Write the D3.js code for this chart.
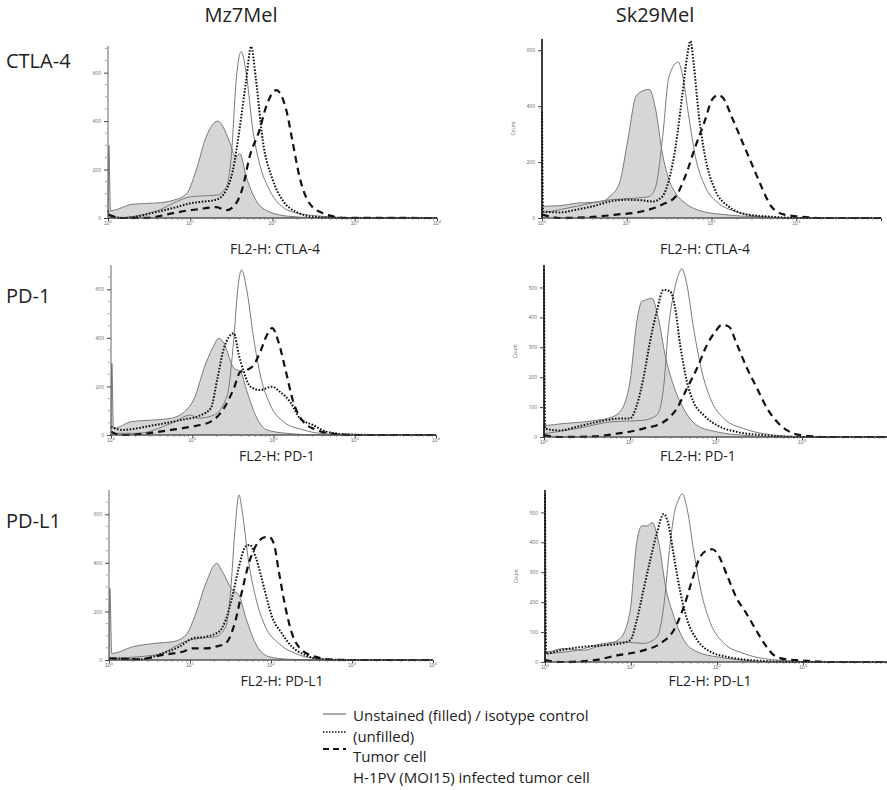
<!DOCTYPE html>
<html>
<head>
<meta charset="utf-8">
<script src="https://cdn.jsdelivr.net/npm/d3@7"></script>
<style>
  body { margin: 0; background: #fff; }
  svg { display: block; font-family: "Open Sans", sans-serif; }
</style>
</head>
<body>
<svg id="chart"></svg>
<script>
// column / row labels
var cellLines = ["Mz7Mel", "Sk29Mel"];
var markers = ["CTLA-4", "PD-1", "PD-L1"];
var xTicks = [1, 10, 100, 1000, 10000];
var xTickExp = ["0", "1", "2", "3", "4"];
var yTicksMz = [0, 200, 400, 600];
var yTicksSkTop = [0, 200, 400, 600];
var yTicksSk = [0, 100, 200, 300, 400, 500];
var legendLabels = ["Unstained (filled) / isotype control", "(unfilled)", "Tumor cell", "H-1PV (MOI15) infected tumor cell"];

// histograms: [FL2-H, count]
var mzCtlaFilled = [[1,20],[1.025,300],[1.07,30],[2,57],[3.9,62],[6.2,73],[9,100],[11.8,197],[15.6,335],[21.7,400],[25,377],[30,315],[36,252],[40,266],[48,170],[63,73],[92,25],[160,7],[300,2],[10000,0]];
var mzCtlaIso = [[1,5],[1.1,0],[3.6,25],[10,87],[12,90],[21,94],[27.4,128],[31.5,252],[36.2,570],[41.6,687],[47.9,597],[57.7,363],[69.5,225],[92,115],[133,45],[213,18],[408,7],[1000,0],[10000,0]];
var mzCtlaTumor = [[1,30],[1.05,10],[1.6,0],[3.9,25],[6.8,45],[9.8,60],[13,66],[20.7,76],[27.4,115],[33,197],[39.6,363],[47.9,570],[55,708],[63,570],[76,322],[101,156],[133,73],[194,25],[339,4],[1000,0],[10000,0]];
var mzCtlaInfected = [[1,14],[1.5,0],[3,1],[6.2,20],[9.8,32],[11.8,35],[20.7,45],[27.4,32],[36,60],[43.6,128],[52.6,252],[69.5,363],[83.7,460],[111,528],[147,446],[177,308],[213,170],[282,60],[408,20],[490,11],[710,1],[10000,0]];

var skCtlaFilled = [[1,40],[1.05,42],[1.64,44],[2.56,53],[4,56],[5.25,60],[6.3,77],[8.2,125],[10.3,279],[12.8,434],[14.7,451],[18.4,460],[22,386],[26.3,232],[31.5,137],[37.7,89],[49,53],[77,24],[144,12],[354,4],[1000,0],[10000,0]];
var skCtlaIso = [[1,18],[1.64,30],[2.56,42],[6.3,65],[12.8,71],[18.4,77],[22,113],[26.3,279],[31.5,505],[40.5,558],[45,517],[54,362],[64.5,220],[84,113],[121,53],[189,24],[354,6],[1000,0],[10000,0]];
var skCtlaTumor = [[1,380],[1.03,24],[1.64,20],[2.56,30],[4,42],[6.3,59],[9.8,65],[15.4,63],[20.1,59],[26.3,77],[31.5,137],[37.7,255],[45,434],[51.5,576],[56.4,633],[61.6,552],[70.5,374],[84,220],[110,101],[158,42],[272,12],[553,4],[1000,0],[10000,0]];
var skCtlaInfected = [[1,12],[1.64,0],[4,4],[7.5,12],[15.4,24],[26.3,48],[37.7,77],[49,149],[64.5,255],[84,350],[101,422],[121,440],[138,428],[173,362],[226,279],[296,196],[387,113],[506,42],[724,12],[1040,6],[2000,0],[10000,0]];

var mzPd1Filled = [[1,20],[1.025,295],[1.07,27],[1.79,55],[3.44,62],[5.5,69],[8,96],[10.6,151],[14,275],[17.7,357],[21.3,398],[24.5,378],[32.5,275],[39.2,261],[47.3,178],[62.6,69],[83,21],[145,7],[400,0],[10000,0]];
var mzPd1Iso = [[1,7],[2.15,7],[5.5,48],[9.6,82],[11.6,69],[18.5,82],[27,165],[32.5,398],[36.4,604],[40.4,680],[47.3,590],[57,398],[68.8,247],[91,124],[132,55],[232,21],[371,7],[1000,0],[10000,0]];
var mzPd1Tumor = [[1,34],[1.35,21],[3.44,41],[7.3,62],[12.8,82],[16.9,110],[20.4,233],[24.5,357],[32.5,419],[37.4,330],[43,261],[52,199],[68.8,185],[95.4,199],[120,178],[160,137],[211,69],[307,41],[447,14],[784,3],[2000,0],[10000,0]];
var mzPd1Infected = [[1,14],[1.3,0],[2.85,7],[5.5,21],[9.6,34],[16.9,55],[24.5,110],[32.5,192],[39.2,261],[47.3,268],[57,288],[68.8,343],[83,412],[96.3,440],[115,384],[139,275],[175,137],[232,55],[338,21],[491,7],[1000,0],[10000,0]];

var skPd1Filled = [[1,39],[1.06,39],[1.67,45],[2.85,50],[4.1,56],[5.8,64],[7.6,84],[10,185],[12,386],[13.7,453],[15.7,459],[17.9,464],[21.4,397],[25.6,274],[32,173],[42,95],[60,39],[103,17],[210,6],[600,0],[10000,0]];
var skPd1Iso = [[1,11],[2.4,28],[5.8,50],[14.3,56],[20.5,73],[24.5,162],[28,364],[32,476],[36.7,543],[40,563],[45.9,509],[54.8,364],[68.7,218],[86,129],[123,62],[210,28],[360,11],[807,2],[2000,0],[10000,0]];
var skPd1Tumor = [[1,560],[1.03,28],[1.52,22],[2.4,34],[4.1,50],[5.8,58],[7.6,62],[10,62],[12,106],[14.3,196],[17.1,319],[20.5,420],[24.5,492],[29.3,487],[33.5,431],[38.3,308],[45.9,185],[54.8,117],[71.8,73],[103,39],[176,17],[360,6],[1000,0],[10000,0]];
var skPd1Infected = [[1,6],[1.5,0],[3.7,2],[7,11],[14.3,28],[24.5,50],[35,95],[45.9,162],[60,229],[78.5,308],[98,352],[117,375],[141,369],[176,308],[230,229],[301,162],[394,95],[515,50],[674,22],[965,6],[2000,0],[10000,0]];

var mzPdl1Filled = [[1,20],[1.025,295],[1.08,27],[2,55],[3.8,69],[6.1,75],[8.9,103],[11.8,192],[15.7,316],[21.4,398],[25.1,364],[33.3,288],[40.2,268],[48.5,178],[64.3,69],[93.6,14],[165,3],[400,0],[10000,0]];
var mzPdl1Iso = [[1,7],[3.8,21],[9.8,82],[13,89],[20.8,96],[27.6,137],[31.8,288],[35.9,535],[40.2,680],[45,590],[53.3,398],[64.3,261],[85.3,137],[124,69],[199,27],[349,7],[1000,0],[10000,0]];
var mzPdl1Tumor = [[1,7],[2.4,3],[4.6,27],[7.4,55],[10.8,89],[15.7,96],[22.9,117],[27.6,165],[33.3,261],[40.2,384],[48.5,467],[54.8,474],[64.3,426],[74,357],[85.3,275],[103,178],[136,110],[181,55],[263,21],[421,3],[1000,0],[10000,0]];
var mzPdl1Infected = [[1,7],[2.4,3],[4.6,21],[8.1,34],[10.8,48],[15.7,48],[20.8,55],[27.6,69],[36.6,165],[44.2,288],[53.3,398],[64.3,467],[77.6,501],[93.6,508],[108,481],[124,371],[150,220],[181,110],[240,41],[349,14],[508,3],[1000,0],[10000,0]];

var skPdl1Filled = [[1,34],[1.05,34],[1.64,45],[2.8,39],[4,51],[5.7,62],[7.5,79],[9.8,174],[11.5,388],[13.4,455],[15.4,455],[17.6,466],[21,399],[25.2,253],[31.5,152],[41.2,73],[59,34],[101,17],[207,6],[600,0],[10000,0]];
var skPdl1Iso = [[1,28],[2.34,39],[4.8,62],[8.2,67],[14,62],[20.1,84],[24,185],[27.5,354],[31.5,489],[36,545],[39.4,562],[45,511],[54,365],[67.4,219],[84.3,129],[121,62],[207,28],[354,11],[792,3],[2000,0],[10000,0]];
var skPdl1Tumor = [[1,560],[1.03,28],[1.5,39],[2.8,51],[4.8,56],[7.5,62],[9.8,73],[11.7,141],[14,242],[16.8,343],[20.1,433],[24,495],[27.5,455],[31.5,354],[37.7,230],[45,141],[59,73],[84.3,34],[132,17],[247,6],[1000,0],[10000,0]];
var skPdl1Infected = [[1,6],[1.5,0],[3.7,6],[6.9,22],[14,39],[22,62],[31.5,107],[41.2,185],[51.5,275],[61.6,343],[73.7,371],[88.3,377],[105,354],[132,287],[173,208],[207,174],[270,118],[354,62],[463,22],[662,8],[867,6],[2000,0],[10000,0]];

var screen = { width: 887, height: 790 };

var svg = d3.select("#chart")
            .attr("width", screen.width)
            .attr("height", screen.height);

// panel boxes (pixel positions of the 10^0 / 10^4 ticks, baseline, top)
var panels = [
  { col: 0, row: 0, x0: 108, x1: 437, yb: 218, yt: 46,  ymax: 710, ticks: yTicksMz,    minor: true,
    curves: [mzCtlaFilled, mzCtlaIso, mzCtlaTumor, mzCtlaInfected], cx: 275 },
  { col: 1, row: 0, x0: 542, x1: 881, yb: 218, yt: 39,  ymax: 640, ticks: yTicksSkTop, minor: false,
    curves: [skCtlaFilled, skCtlaIso, skCtlaTumor, skCtlaInfected], cx: 705 },
  { col: 0, row: 1, x0: 111, x1: 436, yb: 435, yt: 265, ymax: 700, ticks: yTicksMz,    minor: true,
    curves: [mzPd1Filled, mzPd1Iso, mzPd1Tumor, mzPd1Infected], cx: 277 },
  { col: 1, row: 1, x0: 544, x1: 888, yb: 437, yt: 265, ymax: 575, ticks: yTicksSk,    minor: false,
    curves: [skPd1Filled, skPd1Iso, skPd1Tumor, skPd1Infected], cx: 698 },
  { col: 0, row: 2, x0: 109, x1: 433, yb: 660, yt: 490, ymax: 700, ticks: yTicksMz,    minor: true,
    curves: [mzPdl1Filled, mzPdl1Iso, mzPdl1Tumor, mzPdl1Infected], cx: 282 },
  { col: 1, row: 2, x0: 545, x1: 889, yb: 662, yt: 490, ymax: 575, ticks: yTicksSk,    minor: false,
    curves: [skPdl1Filled, skPdl1Iso, skPdl1Tumor, skPdl1Infected], cx: 710 }
];
var subtitleY = [254, 461, 686];
var rowLabelY = [68, 303, 528];

// titles
svg.selectAll(".colTitle")
   .data(cellLines)
   .enter()
   .append("text")
   .attr("x", function(d, i) { return [241, 655][i]; })
   .attr("y", 22)
   .attr("text-anchor", "middle")
   .attr("font-size", 20)
   .attr("fill", "#222")
   .text(function(d) { return d; });

svg.selectAll(".rowTitle")
   .data(markers)
   .enter()
   .append("text")
   .attr("x", 6)
   .attr("y", function(d, i) { return rowLabelY[i]; })
   .attr("font-size", 20)
   .attr("fill", "#222")
   .text(function(d) { return d; });

var minorX = [];
[1, 10, 100, 1000].forEach(function(dec) {
  for (var k = 2; k <= 9; k++) minorX.push(dec * k);
});

panels.forEach(function(p) {
  var xScale = d3.scaleLog().domain([1, 10000]).range([p.x0, p.x1]);
  var yScale = d3.scaleLinear().domain([0, p.ymax]).range([p.yb, p.yt]);
  var g = svg.append("g").classed("panel", true);

  var area = d3.area()
               .x(function(d) { return xScale(d[0]); })
               .y0(yScale(0))
               .y1(function(d) { return yScale(d[1]); })
               .curve(d3.curveMonotoneX);
  var line = d3.line()
               .x(function(d) { return xScale(d[0]); })
               .y(function(d) { return yScale(d[1]); })
               .curve(d3.curveMonotoneX);

  // filled isotype / unstained
  g.append("path")
   .attr("d", area(p.curves[0]))
   .attr("fill", "#d6d6d6")
   .attr("stroke", "#7a7a7a")
   .attr("stroke-width", 1);

  g.append("path")
   .attr("d", line(p.curves[1]))
   .attr("fill", "none")
   .attr("stroke", "#7a7a7a")
   .attr("stroke-width", 1);

  g.append("path")
   .attr("d", line(p.curves[2]))
   .attr("fill", "none")
   .attr("stroke", "#111")
   .attr("stroke-width", 2)
   .attr("stroke-dasharray", "1.6,1.6");

  g.append("path")
   .attr("d", line(p.curves[3]))
   .attr("fill", "none")
   .attr("stroke", "#111")
   .attr("stroke-width", 2.2)
   .attr("stroke-dasharray", "7,5");

  // x axis
  var xAxis = d3.axisBottom(xScale)
                .tickValues(xTicks)
                .tickSize(3)
                .tickFormat("");
  var xg = g.append("g")
            .attr("transform", "translate(0," + p.yb + ")")
            .call(xAxis);
  xg.select(".domain").attr("stroke", "#444").attr("d", "M" + p.x0 + ",0H" + Math.min(p.x1, screen.width));
  xg.selectAll(".tick line").attr("stroke", "#444");

  xg.selectAll(".minor")
    .data(minorX)
    .enter()
    .append("line")
    .attr("x1", function(d) { return xScale(d); })
    .attr("x2", function(d) { return xScale(d); })
    .attr("y1", 0)
    .attr("y2", 2)
    .attr("stroke", "#666")
    .attr("stroke-width", 0.6);

  // labels that would fall past the page edge are cut off in the original too
  var shown = xTicks.filter(function(d) { return xScale(d) < screen.width - 6; });
  var xl = xg.selectAll(".xlab")
             .data(shown)
             .enter()
             .append("text")
             .attr("x", function(d) { return xScale(d); })
             .attr("y", 7)
             .attr("text-anchor", "middle")
             .attr("font-size", 5)
             .attr("fill", "#666");
  xl.append("tspan").text("10");
  xl.append("tspan")
    .attr("dy", -2)
    .attr("font-size", 4)
    .text(function(d, i) { return xTickExp[i]; });

  // y axis
  var yAxis = d3.axisLeft(yScale)
                .tickValues(p.ticks)
                .tickSize(4)
                .tickPadding(3);
  var yg = g.append("g")
            .attr("transform", "translate(" + p.x0 + ",0)")
            .call(yAxis);
  yg.select(".domain")
    .attr("d", "M0," + p.yb + "V" + p.yt)
    .attr("stroke", p.col === 1 ? "#111" : "#666")
    .attr("stroke-width", p.col === 1 ? 1.6 : 1);
  yg.selectAll(".tick line").attr("stroke", "#444");
  yg.selectAll(".tick text").attr("font-size", 5).attr("fill", "#666")
    .attr("font-family", "Open Sans, sans-serif");

  if (p.minor) {
    yg.selectAll(".yminor")
      .data(d3.range(50, p.ymax, 50).filter(function(v) { return v % 200 !== 0; }))
      .enter()
      .append("line")
      .attr("x1", -3)
      .attr("x2", -1.5)
      .attr("y1", function(d) { return yScale(d); })
      .attr("y2", function(d) { return yScale(d); })
      .attr("stroke", "#666")
      .attr("stroke-width", 0.8);
  } else {
    g.append("text")
     .attr("transform", "translate(" + (p.x0 - 27) + "," + ((p.yb + p.yt) / 2) + ") rotate(-90)")
     .attr("text-anchor", "middle")
     .attr("font-size", 5)
     .attr("fill", "#666")
     .text("Count");
  }

  g.append("text")
   .attr("x", p.cx)
   .attr("y", subtitleY[p.row])
   .attr("text-anchor", "middle")
   .attr("font-size", 14)
   .attr("fill", "#222")
   .text("FL2-H: " + markers[p.row]);
});

// legend
var legend = svg.append("g")
                .classed("legend", true)
                .attr("transform", "translate(323,0)");

var legendStyles = [
  { y: 714, dash: null, w: 1, color: "#555" },
  { y: 732, dash: "1.5,1.5", w: 1.6, color: "#111" },
  { y: 749, dash: "6,4", w: 2, color: "#111" }
];

legend.selectAll("line")
      .data(legendStyles)
      .enter()
      .append("line")
      .attr("x1", 0)
      .attr("x2", 23)
      .attr("y1", function(d) { return d.y; })
      .attr("y2", function(d) { return d.y; })
      .attr("stroke", function(d) { return d.color; })
      .attr("stroke-width", function(d) { return d.w; })
      .attr("stroke-dasharray", function(d) { return d.dash; });

legend.selectAll("text")
      .data(legendLabels)
      .enter()
      .append("text")
      .attr("x", 30)
      .attr("y", function(d, i) { return 721 + i * 20.7; })
      .attr("font-size", 15)
      .attr("fill", "#222")
      .text(function(d) { return d; });
</script>
</body>
</html>
